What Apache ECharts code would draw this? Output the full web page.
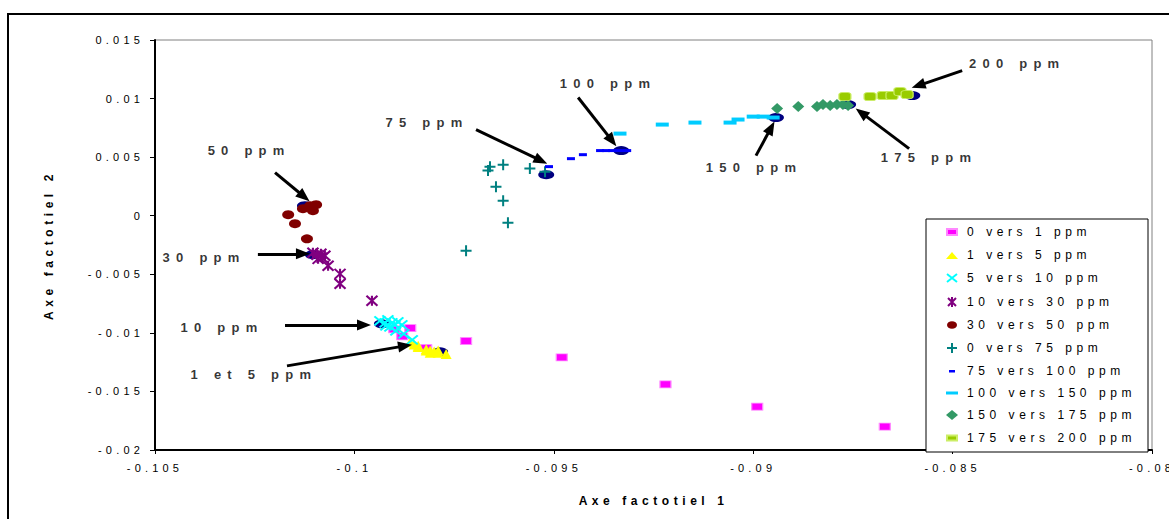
<!DOCTYPE html>
<html><head><meta charset="utf-8">
<script src="https://cdn.jsdelivr.net/npm/echarts@6/dist/echarts.min.js"></script>
<style>
html,body{margin:0;padding:0;background:#fff;overflow:hidden;}
#main{width:1169px;height:519px;}
#main text{letter-spacing:0.38em;}
#main text[style*="13px"]{letter-spacing:0.48em;}
</style></head><body><div id="main"></div>
<script>
// ---- data ----
const xTickLabels = ['-0.105','-0.1','-0.095','-0.09','-0.085','-0.08'];
const yTickLabels = ['-0.02','-0.015','-0.01','-0.005','0','0.005','0.01','0.015'];
const seriesNames = ['0 vers 1 ppm','1 vers 5 ppm','5 vers 10 ppm','10 vers 30 ppm','30 vers 50 ppm','0 vers 75 ppm','75 vers 100 ppm','100 vers 150 ppm','150 vers 175 ppm','175 vers 200 ppm'];

const s0to1 = [[-0.0990,-0.0097],[-0.0988,-0.0103],[-0.0986,-0.0096],[-0.0982,-0.0113],[-0.0972,-0.0107],[-0.0948,-0.0121],[-0.0922,-0.0144],[-0.0899,-0.0163],[-0.0867,-0.0180]];
const s1to5 = [[-0.0986,-0.0108],[-0.0985,-0.0110],[-0.0984,-0.0112],[-0.0982,-0.0114],[-0.0981,-0.0115],[-0.0980,-0.0116],[-0.0979,-0.0117],[-0.0977,-0.0118],[-0.0984,-0.0111],[-0.0982,-0.0115],[-0.0981,-0.0117],[-0.0979,-0.0115]];
const s5to10 = [[-0.09936,-0.00897],[-0.09923,-0.00915],[-0.09916,-0.00889],[-0.09906,-0.00915],[-0.09898,-0.00932],[-0.09891,-0.00906],[-0.09881,-0.00932],[-0.09911,-0.00949],[-0.09921,-0.00940],[-0.09896,-0.00983],[-0.09876,-0.01009],[-0.09855,-0.01060]];
const s10to30 = [[-0.10104,-0.00316],[-0.10094,-0.00333],[-0.10084,-0.00325],[-0.10074,-0.00342],[-0.10091,-0.00368],[-0.10081,-0.00359],[-0.10066,-0.00427],[-0.10036,-0.00496],[-0.10036,-0.00581],[-0.09956,-0.00726]];
const s30to50 = [[-0.10111,0.00085],[-0.10129,0.00060],[-0.10104,0.00043],[-0.10096,0.00094],[-0.10166,0.00009],[-0.10149,-0.00068],[-0.10119,-0.00197]];
const s0to75 = [[-0.09660,0.00419],[-0.09665,0.00385],[-0.09627,0.00436],[-0.09560,0.00402],[-0.09522,0.00376],[-0.09645,0.00248],[-0.09627,0.00128],[-0.09615,-0.00060],[-0.09720,-0.00299]];
const s75to100 = [[-0.09512,0.00419],[-0.09457,0.00487],[-0.09427,0.00521],[-0.09384,0.00556],[-0.09369,0.00556],[-0.09354,0.00556],[-0.09334,0.00556],[-0.09316,0.00556]];
const s100to150 = [[-0.09334,0.00701],[-0.09228,0.00778],[-0.09146,0.00795],[-0.09058,0.00795],[-0.09038,0.00821],[-0.09000,0.00846],[-0.08975,0.00846],[-0.08950,0.00838]];
const s150to175 = [[-0.08940,0.00915],[-0.08887,0.00932],[-0.08840,0.00932],[-0.08825,0.00949],[-0.08807,0.00940],[-0.08790,0.00949],[-0.08775,0.00949],[-0.08762,0.00940]];
const s175to200 = [[-0.08770,0.01017],[-0.08707,0.01017],[-0.08674,0.01026],[-0.08652,0.01026],[-0.08632,0.01060],[-0.08614,0.01034]];
const centres = [[-0.10124,0.00085],[-0.10104,-0.00333],[-0.09931,-0.00923],[-0.09785,-0.01162],[-0.09519,0.00350],[-0.09331,0.00556],[-0.08943,0.00838],[-0.08762,0.00949],[-0.08601,0.01026]];

const noteTexts = ['200 ppm','100 ppm','75 ppm','50 ppm','150 ppm','175 ppm','30 ppm','10 ppm','1 et 5 ppm'];
const noteAt = [[-0.08338,0.01299],[-0.09364,0.01128],[-0.09818,0.00795],[-0.10264,0.00556],[-0.08998,0.00410],[-0.08559,0.00496],[-0.10377,-0.00359],[-0.10332,-0.00957],[-0.10252,-0.01359]];
const arrowFrom = [[-0.08476,0.01239],[-0.09439,0.01009],[-0.09695,0.00735],[-0.10199,0.00368],[-0.08993,0.00513],[-0.08609,0.00573],[-0.10242,-0.00325],[-0.10174,-0.00932],[-0.10169,-0.01282]];
const arrowTo = [[-0.08586,0.01111],[-0.09354,0.00641],[-0.09532,0.00470],[-0.10126,0.00162],[-0.08955,0.00752],[-0.08729,0.00880],[-0.10129,-0.00325],[-0.09976,-0.00932],[-0.09873,-0.01111]];

// ---- styles ----
const FONT = '"Liberation Sans", Arial, sans-serif';
const B = 'path://M0,0M12,12';
const styles = [
  {symbol:'rect', size:[11,7], color:'#FF00FF', border:'#FF88FF', bw:1, icon:B+'M1,3L11,3L11,9L1,9Z'},
  {symbol:'triangle', size:[11,10], color:'#FFFF00', icon:B+'M0,10L6,3L12,10Z'},
  {symbol:'path://M0,0L10,10M10,0L0,10', size:[11,9], color:'#00FFFF', border:'#00FFFF', bw:2, icon:B+'M1,2L11,10M11,2L1,10'},
  {symbol:'path://M0,0L10,10M10,0L0,10M5,0L5,10', size:[11,10], color:'#800080', border:'#800080', bw:2, icon:B+'M2,2L10,10M10,2L2,10M6,1L6,11'},
  {symbol:'circle', size:[12,9], color:'#800000', icon:B+'M1,6A5,3.8,0,1,0,11,6A5,3.8,0,1,0,1,6Z'},
  {symbol:'path://M5,0L5,10M0,5L10,5', size:[11,11], color:'#008080', border:'#008080', bw:2, icon:B+'M6,1L6,11M1,6L11,6'},
  {symbol:'rect', size:[8,3], color:'#0000FF', icon:B+'M3,5L9,5L9,7.5L3,7.5Z'},
  {symbol:'rect', size:[13,4], color:'#00CCFF', icon:B+'M0,4.5L12,4.5L12,7.5L0,7.5Z'},
  {symbol:'diamond', size:[12,11], color:'#339966', icon:B+'M0,6L6,1L12,6L6,11Z'},
  {symbol:'roundRect', size:[12,8], color:'#99CC00', border:'#CCEE66', bw:1, icon:B+'M1,3.5L11,3.5L11,8.5L1,8.5Z'}
];
const seriesData = [s0to1,s1to5,s5to10,s10to30,s30to50,s0to75,s75to100,s100to150,s150to175,s175to200];

const series = [{
  name:'centres', type:'scatter', data:centres, symbol:'circle', symbolSize:[16,9],
  itemStyle:{color:'#000080', opacity:1}, z:1, silent:true
}];
seriesNames.forEach((n,i)=>{
  const st = styles[i];
  series.push({
    name:n, type:'scatter', data:seriesData[i], symbol:st.symbol, symbolSize:st.size,
    itemStyle:{color:st.color, opacity:1, borderColor:st.border||st.color, borderWidth:st.bw||0},
    z:2
  });
});
series.push({
  name:'notes', type:'scatter', symbolSize:0, silent:true, z:6,
  data: noteTexts.map((t,i)=>({value:noteAt[i], name:t})),
  label:{show:true, position:'inside', formatter:p=>p.name, color:'#000', fontSize:13, fontWeight:'bold', fontFamily:FONT},
  markLine:{
    silent:true, symbol:['none','triangle'], symbolSize:[11,14], animation:false,
    lineStyle:{color:'#000', width:3, type:'solid'}, label:{show:false},
    data: arrowFrom.map((f,i)=>[{coord:f},{coord:arrowTo[i]}])
  }
});

const chart = echarts.init(document.getElementById('main'), null, {renderer:'svg'});
chart.setOption({
  animation:false,
  backgroundColor:'#fff',
  textStyle:{fontFamily:FONT},
  grid:{left:155, right:17, top:40, bottom:69, show:true, borderColor:'#808080', borderWidth:1},
  xAxis:{
    type:'value', min:-0.105, max:-0.08, interval:0.005,
    name:'Axe factotiel 1', nameLocation:'middle', nameGap:45,
    nameTextStyle:{fontSize:12, fontWeight:'bold', color:'#000', fontFamily:FONT},
    axisLine:{show:true, onZero:false, lineStyle:{color:'#000', width:2}},
    axisTick:{show:true, length:4, lineStyle:{color:'#000'}},
    axisLabel:{fontSize:11, color:'#000', margin:12, fontFamily:FONT, formatter:(v,i)=>xTickLabels[i]},
    splitLine:{show:false}
  },
  yAxis:{
    type:'value', min:-0.02, max:0.015, interval:0.005,
    name:'Axe factotiel 2', nameLocation:'middle', nameGap:100,
    nameTextStyle:{fontSize:12, fontWeight:'bold', color:'#000', fontFamily:FONT},
    axisLine:{show:true, onZero:false, lineStyle:{color:'#000', width:2}},
    axisTick:{show:true, length:5, lineStyle:{color:'#000'}},
    axisLabel:{fontSize:11, color:'#000', margin:11, fontFamily:FONT, formatter:(v,i)=>yTickLabels[i]},
    splitLine:{show:false}
  },
  legend:{
    data:seriesNames.map((n,i)=>({name:n, icon:styles[i].icon})),
    orient:'vertical', left:940, top:220, itemWidth:20, itemHeight:12, itemGap:10,
    textStyle:{fontSize:12, color:'#000', fontFamily:FONT}, z:5
  },
  graphic:[
    {type:'rect', z:0, shape:{x:8, y:14, width:1200, height:520}, style:{fill:'none', stroke:'#000', lineWidth:2}},
    {type:'rect', z:4, shape:{x:926, y:219, width:222, height:233}, style:{fill:'#fff', stroke:'#000', lineWidth:1}}
  ],
  series:series
});
</script></body></html>
